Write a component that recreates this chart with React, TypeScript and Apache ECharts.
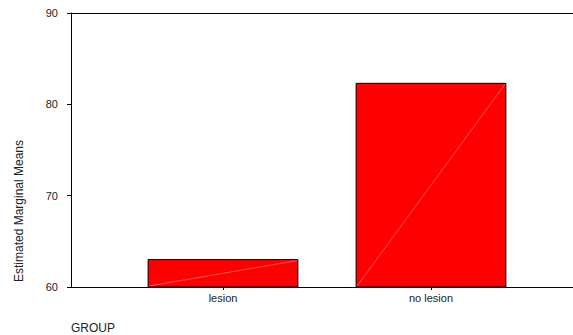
import React, { useEffect, useRef } from "react";
import * as echarts from "echarts";

const categories = ["lesion", "no lesion"];
const means = [63.0, 82.3];
const yTicks = { min: 60, max: 90, interval: 10 };

const FONT = "'Liberation Sans', Arial, sans-serif";
const INK = "#222";

export default function App() {
  const ref = useRef<HTMLDivElement>(null);

  useEffect(() => {
    document.body.style.margin = "0";
    document.body.style.overflow = "hidden";
    if (!ref.current) return;
    const chart = echarts.init(ref.current, undefined, { renderer: "svg" });

    const option: echarts.EChartsOption = {
      animation: false,
      backgroundColor: "#fff",
      grid: [
        { left: 71, top: 13, right: 0, bottom: 48 },
        { left: 119, width: 416, top: 13, bottom: 48 },
      ],
      xAxis: [
        {
          gridIndex: 0,
          type: "value",
          min: 0,
          max: 1,
          position: "bottom",
          axisLine: { show: true, lineStyle: { color: "#000", width: 1 } },
          axisTick: { show: false },
          axisLabel: { show: false },
          splitLine: { show: false },
        },
        {
          gridIndex: 0,
          type: "value",
          min: 0,
          max: 1,
          position: "top",
          axisLine: { show: true, onZero: false, lineStyle: { color: "#000", width: 1 } },
          axisTick: { show: false },
          axisLabel: { show: false },
          splitLine: { show: false },
        },
        {
          gridIndex: 1,
          type: "category",
          data: categories,
          axisLine: { show: false },
          axisTick: {
            show: true,
            alignWithLabel: true,
            length: 3,
            lineStyle: { color: "#000" },
          },
          axisLabel: { color: INK, fontSize: 11, fontFamily: FONT, margin: 5 },
        },
      ],
      yAxis: [
        {
          gridIndex: 0,
          type: "value",
          min: yTicks.min,
          max: yTicks.max,
          interval: yTicks.interval,
          axisLine: { show: true, lineStyle: { color: "#000", width: 1 } },
          axisTick: { show: true, length: 4, lineStyle: { color: "#000" } },
          axisLabel: { color: INK, fontSize: 11, fontFamily: FONT, margin: 13 },
          splitLine: { show: false },
        },
        {
          gridIndex: 1,
          type: "value",
          min: yTicks.min,
          max: yTicks.max,
          interval: yTicks.interval,
          show: false,
        },
      ],
      series: [
        {
          type: "custom",
          xAxisIndex: 2,
          yAxisIndex: 1,
          data: means.map((v, i) => [i, v]),
          renderItem: (params: any, api: any) => {
            const idx = api.value(0);
            const val = api.value(1);
            const top = api.coord([idx, val]);
            const base = api.coord([idx, yTicks.min]);
            const band = api.size([1, 0])[0];
            const w = band * 0.72;
            const x0 = top[0] - w / 2;
            const x1 = top[0] + w / 2;
            return {
              type: "group",
              children: [
                {
                  type: "rect",
                  shape: { x: x0, y: top[1], width: w, height: base[1] - top[1] },
                  style: { fill: "#ff0000", stroke: "#000", lineWidth: 1 },
                },
                {
                  type: "line",
                  shape: { x1: x0 + 1, y1: base[1] - 1, x2: x1 - 1, y2: top[1] + 1 },
                  style: { stroke: "rgba(255,255,255,0.55)", lineWidth: 0.6 },
                },
              ],
            };
          },
        },
      ],
      graphic: [
        {
          type: "text",
          x: 19,
          y: 211,
          rotation: Math.PI / 2,
          style: {
            text: "Estimated Marginal Means",
            fill: INK,
            fontSize: 12,
            fontFamily: FONT,
            align: "center",
            verticalAlign: "middle",
          },
        },
        {
          type: "text",
          x: 71,
          y: 328,
          style: {
            text: "GROUP",
            fill: INK,
            fontSize: 12,
            fontFamily: FONT,
            align: "left",
            verticalAlign: "middle",
          },
        },
      ],
    };

    chart.setOption(option);
    return () => chart.dispose();
  }, []);

  return <div ref={ref} style={{ width: 573, height: 335 }} />;
}
